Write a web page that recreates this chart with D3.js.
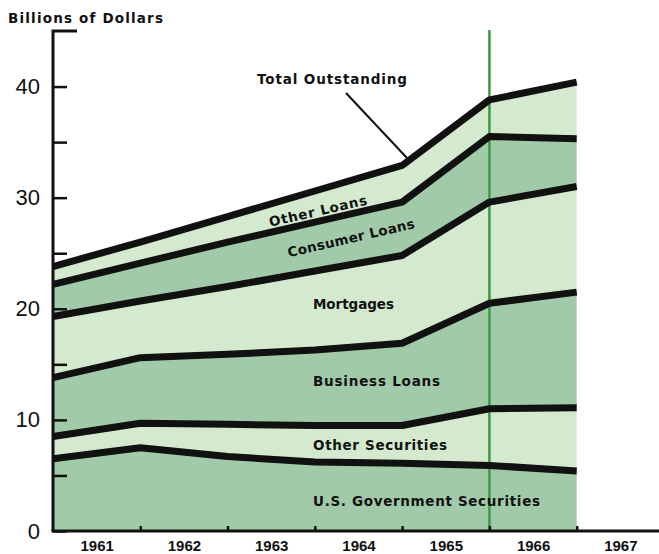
<!DOCTYPE html>
<html lang="en">
<head>
<meta charset="utf-8">
<title>Billions of Dollars - stacked areas</title>
<script src="https://cdn.jsdelivr.net/npm/d3@7"></script>
<style>
    body { margin: 0; background: #fff; }
    svg { display: block; }
    .lbl { font-family: "DejaVu Sans", sans-serif; font-weight: bold; font-size: 13.5px; fill: #111; }
    .yaxis text { font-family: "Liberation Sans", Arial, sans-serif; font-size: 22px; fill: #111; }
    .xaxis text { font-family: "Liberation Sans", Arial, sans-serif; font-weight: bold; font-size: 15px; fill: #111; }
    .boundary { fill: none; stroke: #111; stroke-width: 7; stroke-linejoin: round; }
</style>
</head>
<body>
<svg></svg>
<script>
    // year-end points (1960 = start of 1961)
    var years = [1960, 1961, 1962, 1963, 1964, 1965, 1966];

    // billions of dollars, bottom layer first
    var usGovSecurities = [6.5, 7.5, 6.7, 6.2, 6.1, 5.9, 5.4];
    var otherSecurities = [2.0, 2.2, 2.9, 3.3, 3.4, 5.1, 5.7];
    var businessLoans   = [5.3, 5.9, 6.3, 6.8, 7.4, 9.5, 10.4];
    var mortgages       = [5.5, 5.1, 6.1, 7.1, 7.9, 9.1, 9.5];
    var consumerLoans   = [2.9, 3.4, 4.0, 4.4, 4.8, 5.9, 4.3];
    var otherLoans      = [1.6, 1.9, 2.3, 2.8, 3.3, 3.3, 5.1];

    var yearLabels = [1961, 1962, 1963, 1964, 1965, 1966, 1967];
    var yTicks = [0, 5, 10, 15, 20, 25, 30, 35, 40];
    var markerYear = 1965;

    var keys = ["usGov", "otherSec", "business", "mortgages", "consumer", "otherLoans"];
    var fills = ["#a1caa9", "#d4eacf", "#a1caa9", "#d4eacf", "#a1caa9", "#d4eacf"];

    var rows = years.map(function (y, i) {
        return {
            year: y,
            usGov: usGovSecurities[i],
            otherSec: otherSecurities[i],
            business: businessLoans[i],
            mortgages: mortgages[i],
            consumer: consumerLoans[i],
            otherLoans: otherLoans[i]
        };
    });

    var width = 659, height = 554;

    var svg = d3.select("svg")
        .attr("width", width)
        .attr("height", height);

    var x = d3.scaleLinear().domain([1960, 1967]).range([53, 664]);
    var y = d3.scaleLinear().domain([0, 45]).range([531, 31]);

    var layers = d3.stack().keys(keys)(rows);

    var area = d3.area()
        .x(function (d) { return x(d.data.year); })
        .y0(function (d) { return y(d[0]); })
        .y1(function (d) { return y(d[1]); });

    var line = d3.line()
        .x(function (d) { return x(d.data.year); })
        .y(function (d) { return y(d[1]); });

    svg.append("g").selectAll("path")
        .data(layers)
        .enter().append("path")
        .attr("fill", function (d, i) { return fills[i]; })
        .attr("d", area);

    // marker line at end of 1965
    svg.append("line")
        .attr("x1", x(markerYear)).attr("x2", x(markerYear))
        .attr("y1", y(45) - 1).attr("y2", y(0))
        .attr("stroke", "#3c9a45")
        .attr("stroke-width", 2.5);

    svg.append("g").selectAll("path")
        .data(layers)
        .enter().append("path")
        .attr("class", "boundary")
        .attr("d", line);

    // y axis, ticks pointing into the chart
    var yAxis = svg.append("g")
        .attr("class", "yaxis")
        .attr("transform", "translate(" + x(1960) + ",0)")
        .call(d3.axisLeft(y)
            .tickValues(yTicks)
            .tickSize(-14)
            .tickPadding(13)
            .tickFormat(function (d) { return d % 10 === 0 ? d : ""; }));
    yAxis.select(".domain").remove();
    yAxis.selectAll("line").attr("stroke", "#111").attr("stroke-width", 2.5);
    yAxis.append("path")
        .attr("d", "M0," + y(0) + "V" + y(45) + "H24")
        .attr("fill", "none")
        .attr("stroke", "#111")
        .attr("stroke-width", 3);

    // x axis: ticks at year ends, labels in the middle of each year
    var xTicks = svg.append("g")
        .attr("transform", "translate(0," + y(0) + ")")
        .call(d3.axisBottom(x)
            .tickValues(yearLabels.slice(0, 6))
            .tickSize(-5)
            .tickFormat(""));
    xTicks.select(".domain").remove();
    xTicks.selectAll("line").attr("stroke", "#111").attr("stroke-width", 2.5);

    var xLabels = svg.append("g")
        .attr("class", "xaxis")
        .attr("transform", "translate(0," + y(0) + ")")
        .call(d3.axisBottom(x)
            .tickValues(yearLabels.map(function (d) { return d - 0.5; }))
            .tickSize(0)
            .tickPadding(9)
            .tickFormat(function (d) { return d + 0.5; }));
    xLabels.select(".domain").remove();

    svg.append("line")
        .attr("x1", x(1960) - 1.5).attr("x2", width)
        .attr("y1", y(0)).attr("y2", y(0))
        .attr("stroke", "#111")
        .attr("stroke-width", 3);

    // titles and band labels
    svg.append("text").attr("class", "lbl")
        .attr("x", 8).attr("y", 23)
        .attr("textLength", 155).attr("lengthAdjust", "spacing")
        .text("Billions of Dollars");

    svg.append("text").attr("class", "lbl")
        .attr("x", 257).attr("y", 84)
        .attr("textLength", 150).attr("lengthAdjust", "spacing")
        .text("Total Outstanding");

    svg.append("line")
        .attr("x1", 346).attr("y1", 93)
        .attr("x2", 407).attr("y2", 158)
        .attr("stroke", "#111").attr("stroke-width", 2);

    var rotated = [
        {t: "Other Loans", cx: 318, cy: 211, len: 100},
        {t: "Consumer Loans", cx: 351, cy: 238, len: 130}
    ];
    rotated.forEach(function (r) {
        svg.append("text").attr("class", "lbl")
            .attr("text-anchor", "middle")
            .attr("transform", "translate(" + r.cx + "," + r.cy + ") rotate(-13)")
            .attr("dy", "0.35em")
            .attr("textLength", r.len).attr("lengthAdjust", "spacing")
            .text(r.t);
    });

    var flat = [
        {t: "Mortgages", cy: 304, len: 81},
        {t: "Business Loans", cy: 381, len: 127},
        {t: "Other Securities", cy: 445, len: 134},
        {t: "U.S. Government Securities", cy: 501, len: 227}
    ];
    flat.forEach(function (r) {
        svg.append("text").attr("class", "lbl")
            .attr("x", 313).attr("y", r.cy)
            .attr("dy", "0.35em")
            .attr("textLength", r.len).attr("lengthAdjust", "spacing")
            .text(r.t);
    });
</script>
</body>
</html>
